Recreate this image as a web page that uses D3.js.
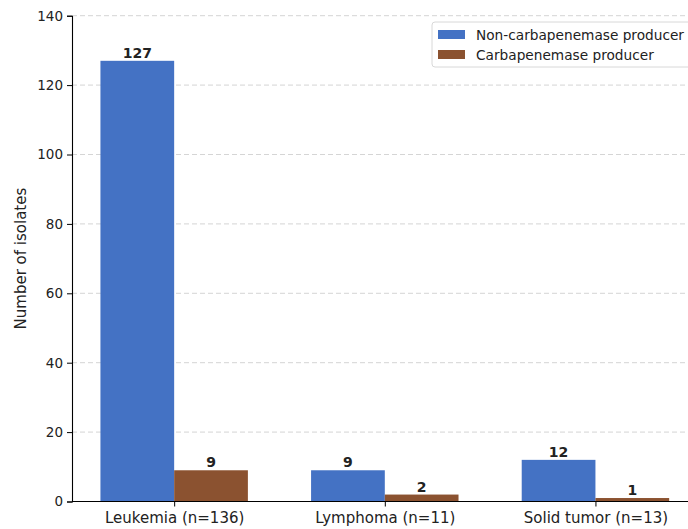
<!DOCTYPE html>
<html>
<head>
<meta charset="utf-8">
<script src="https://cdn.jsdelivr.net/npm/d3@7"></script>
<style>
  body { margin: 0; background: #fff; }
  svg { display: block; font-family: "DejaVu Sans", sans-serif; }
</style>
</head>
<body>
<div id="chart"></div>
<script>
// chart data
var categories = ["Leukemia (n=136)", "Lymphoma (n=11)", "Solid tumor (n=13)"];
var seriesNames = ["Non-carbapenemase producer", "Carbapenemase producer"];
var nonProducer = [127, 9, 12];
var producer = [9, 2, 1];
var yTicks = [0, 20, 40, 60, 80, 100, 120, 140];

var config = {
    width: 688,
    height: 529,
    colors: ["#4472c4", "#8b5230"],
    barWidth: 0.35,
    fontSize: 13.5
};

var svg = d3.select("#chart").append("svg")
    .attr("width", config.width)
    .attr("height", config.height);

// x is the category index, like matplotlib's default bar positions
var x = d3.scaleLinear().domain([-0.485, 2.485]).range([72, 697.6]);
var y = d3.scaleLinear().domain([0, 140]).range([501.5, 15.7]);

// grid lines
svg.append("g").selectAll("line")
    .data(yTicks)
    .enter().append("line")
    .attr("x1", x(-0.485)).attr("x2", config.width)
    .attr("y1", function (d) { return y(d); })
    .attr("y2", function (d) { return y(d); })
    .attr("stroke", "#d0d0d0")
    .attr("stroke-width", 0.9)
    .attr("stroke-dasharray", "5,3");

// bars
var series = [nonProducer, producer];
series.forEach(function (vals, s) {
    var off = s === 0 ? -config.barWidth : 0;
    var g = svg.append("g");
    g.selectAll("rect")
        .data(vals)
        .enter().append("rect")
        .attr("x", function (d, i) { return x(i + off); })
        .attr("width", function (d, i) { return x(i + off + config.barWidth) - x(i + off); })
        .attr("y", function (d) { return y(d); })
        .attr("height", function (d) { return y(0) - y(d); })
        .attr("fill", config.colors[s]);
    g.selectAll("text")
        .data(vals)
        .enter().append("text")
        .attr("x", function (d, i) { return x(i + off + config.barWidth / 2); })
        .attr("y", function (d) { return y(d) - 3; })
        .attr("text-anchor", "middle")
        .attr("font-size", 14)
        .attr("font-weight", "bold")
        .attr("fill", "#222")
        .text(function (d) { return d; });
});

// y axis
var yAxis = svg.append("g")
    .attr("transform", "translate(" + x(-0.485) + ",0)")
    .call(d3.axisLeft(y).tickValues(yTicks).tickSize(5).tickPadding(4));
yAxis.select(".domain").attr("stroke", "#000").attr("stroke-width", 1.1);
yAxis.selectAll("text").attr("font-size", config.fontSize).attr("fill", "#222")
    .attr("font-family", "DejaVu Sans");

// x axis
var xAxis = svg.append("g")
    .attr("transform", "translate(0," + y(0) + ")")
    .call(d3.axisBottom(x).tickValues([0, 1, 2])
        .tickFormat(function (d) { return categories[d]; })
        .tickSize(5).tickPadding(6));
xAxis.select(".domain").attr("d", "M" + x(-0.485) + ",0H" + config.width)
    .attr("stroke", "#000").attr("stroke-width", 1.1);
xAxis.selectAll("text").attr("font-size", 15).attr("fill", "#222")
    .attr("font-family", "DejaVu Sans");

// y label
svg.append("text")
    .attr("transform", "translate(26," + y(70) + ") rotate(-90)")
    .attr("text-anchor", "middle")
    .attr("font-size", 15)
    .attr("fill", "#222")
    .text("Number of isolates");

// legend
var legend = svg.append("g").attr("transform", "translate(432,22)");
legend.append("rect")
    .attr("x", 0).attr("y", 0)
    .attr("width", 270).attr("height", 45)
    .attr("rx", 3)
    .attr("fill", "#fff")
    .attr("fill-opacity", 0.85)
    .attr("stroke", "#d8d8d8");
seriesNames.forEach(function (name, i) {
    legend.append("rect")
        .attr("x", 6).attr("y", 8 + i * 20)
        .attr("width", 27).attr("height", 9)
        .attr("fill", config.colors[i]);
    legend.append("text")
        .attr("x", 44).attr("y", 17.5 + i * 20)
        .attr("font-size", 13.7)
        .attr("fill", "#222")
        .text(name);
});
</script>
</body>
</html>
